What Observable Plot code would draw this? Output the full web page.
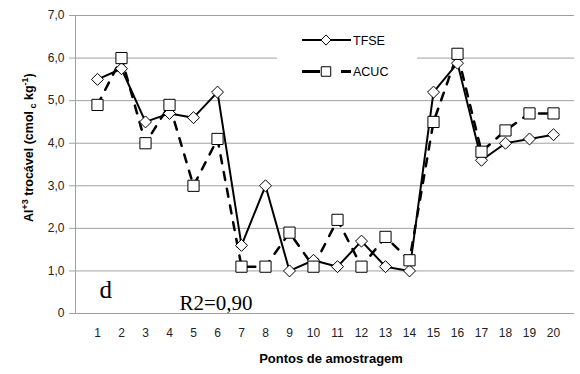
<!DOCTYPE html>
<html>
<head>
<meta charset="utf-8">
<script src="https://cdn.jsdelivr.net/npm/d3@7"></script>
<script src="https://cdn.jsdelivr.net/npm/@observablehq/plot@0.6"></script>
<style>
  body { margin: 0; background: #fff; }
  #chart { width: 580px; height: 374px; }
  #chart svg { display: block; }
</style>
</head>
<body>
<div id="chart"></div>
<script>
// Sampling points and exchangeable Al3+ by the two methods
const pontos = [1, 2, 3, 4, 5, 6, 7, 8, 9, 10, 11, 12, 13, 14, 15, 16, 17, 18, 19, 20];
const tfse = [5.5, 5.75, 4.5, 4.7, 4.6, 5.2, 1.6, 3.0, 1.0, 1.25, 1.1, 1.7, 1.1, 1.0, 5.2, 5.88, 3.6, 4.0, 4.1, 4.2];
const acuc = [4.9, 6.0, 4.0, 4.9, 3.0, 4.1, 1.1, 1.1, 1.9, 1.1, 2.2, 1.1, 1.8, 1.25, 4.5, 6.1, 3.8, 4.3, 4.7, 4.7];
const yTicks = [0, 1, 2, 3, 4, 5, 6, 7];
const seriesNames = ["TFSE", "ACUC"];

const rows = pontos.map((p, i) => ({ponto: p, tfse: tfse[i], acuc: acuc[i]}));
const fmt = v => v === 0 ? "0" : v.toFixed(1).replace(".", ",");

const GRID = "#a0a0a0";
const R_DIAMOND = 5.4;
const R_SQUARE = 6.3;

const plot = Plot.plot({
  width: 580,
  height: 374,
  marginLeft: 75,
  marginRight: 6,
  marginTop: 15,
  marginBottom: 61,
  style: {fontFamily: "'Liberation Sans', Arial, sans-serif", fontSize: "12px", color: "#000", background: "#fff"},
  x: {type: "point", domain: pontos, padding: 0.5, label: null},
  y: {domain: [0, 7], label: null},
  marks: [
    Plot.ruleY(yTicks, {stroke: GRID, strokeWidth: 1}),
    Plot.frame({anchor: "left", stroke: GRID}),
    Plot.axisY(yTicks, {tickFormat: fmt, tickSize: 6, tickPadding: 5, stroke: GRID, fill: "#222", fontSize: 12, label: null}),
    Plot.axisX({tickSize: 0, tickPadding: 15, fill: "#222", fontSize: 12, label: null}),
    Plot.line(rows, {x: "ponto", y: "acuc", stroke: "#000", strokeWidth: 2.5, strokeDasharray: "8,9"}),
    Plot.line(rows, {x: "ponto", y: "tfse", stroke: "#000", strokeWidth: 2}),
    Plot.dot(rows, {x: "ponto", y: "tfse", symbol: "diamond2", r: R_DIAMOND, fill: "#fff", stroke: "#000", strokeWidth: 1}),
    Plot.dot(rows, {x: "ponto", y: "acuc", symbol: "square", r: R_SQUARE, fill: "#fff", stroke: "#000", strokeWidth: 1}),
    Plot.text(["d"], {frameAnchor: "bottom-left", dx: 24, dy: -16, textAnchor: "start", lineAnchor: "bottom",
      fontFamily: "'Liberation Serif', 'Times New Roman', serif", fontSize: 25, fill: "#000"}),
    Plot.text(["R2=0,90"], {frameAnchor: "bottom-left", dx: 104, dy: -4, textAnchor: "start", lineAnchor: "bottom",
      fontFamily: "'Liberation Serif', 'Times New Roman', serif", fontSize: 21, fill: "#000"}),
    Plot.text(["Pontos de amostragem"], {frameAnchor: "bottom", dx: 6, dy: 45, lineAnchor: "middle",
      fontWeight: "bold", fontSize: 13, fill: "#000"})
  ]
});

document.getElementById("chart").appendChild(plot);

const svg = d3.select(plot);

// Rotated y-axis title with super/subscripts, reading upward from its start
const yt = svg.append("text")
  .attr("transform", "translate(33,222) rotate(-90)")
  .attr("text-anchor", "start")
  .attr("font-family", "'Liberation Sans', Arial, sans-serif")
  .attr("font-weight", "bold")
  .attr("font-size", 12.5)
  .attr("fill", "#000");
yt.append("tspan").text("Al");
yt.append("tspan").attr("font-size", 9).attr("dy", -5).text("+3");
yt.append("tspan").attr("dy", 5).text(" trocável (cmol");
yt.append("tspan").attr("font-size", 9).attr("dy", 3).text(" c");
yt.append("tspan").attr("dy", -3).text(" kg");
yt.append("tspan").attr("font-size", 9).attr("dy", -5).text("-1");
yt.append("tspan").attr("dy", 5).text(")");

// Legend box
const lg = svg.append("g");
lg.append("rect").attr("x", 277).attr("y", 22).attr("width", 140).attr("height", 72).attr("fill", "#fff");

const legendRows = [
  {name: seriesNames[0], y: 40, dash: null, width: 2, sym: d3.symbolDiamond2, r: R_DIAMOND},
  {name: seriesNames[1], y: 71.5, dash: "18,21", width: 3, sym: d3.symbolSquare, r: R_SQUARE}
];
for (const d of legendRows) {
  lg.append("line")
    .attr("x1", 302).attr("x2", 351).attr("y1", d.y).attr("y2", d.y)
    .attr("stroke", "#000").attr("stroke-width", d.width)
    .attr("stroke-dasharray", d.dash);
  lg.append("path")
    .attr("transform", `translate(326,${d.y})`)
    .attr("d", d3.symbol().type(d.sym).size(Math.PI * d.r * d.r * 0.72)())
    .attr("fill", "#fff").attr("stroke", "#000").attr("stroke-width", 1);
  lg.append("text")
    .attr("x", 353).attr("y", d.y).attr("dy", "0.36em")
    .attr("text-anchor", "start")
    .attr("font-family", "'Liberation Sans', Arial, sans-serif")
    .attr("font-size", 12.5).attr("fill", "#000")
    .text(d.name);
}
</script>
</body>
</html>
